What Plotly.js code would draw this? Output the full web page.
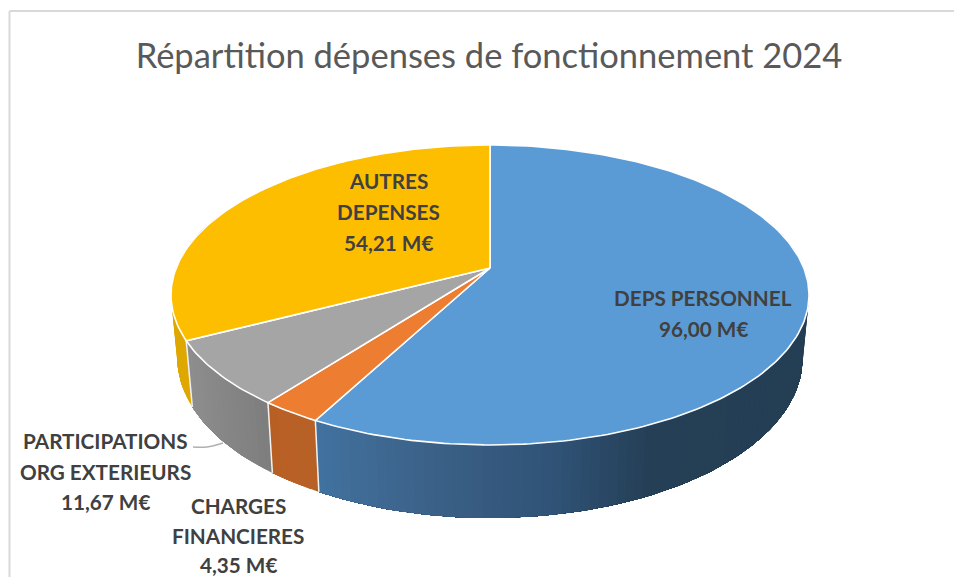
<!DOCTYPE html>
<html><head><meta charset="utf-8">
<script src="https://cdn.plot.ly/plotly-3.0.1.min.js"></script>
<style>html,body{margin:0;padding:0;background:#fff}#c{width:954px;height:577px}</style>
</head><body><div id="c"></div>
<script>
// ---- data ----
const categories = ['DEPS PERSONNEL','CHARGES FINANCIERES','PARTICIPATIONS ORG EXTERIEURS','AUTRES DEPENSES'];
const values = [96.00, 4.35, 11.67, 54.21];
const labelLines = [['DEPS PERSONNEL'],['CHARGES','FINANCIERES'],['PARTICIPATIONS','ORG EXTERIEURS'],['AUTRES','DEPENSES']];
const titleText = 'Répartition dépenses de fonctionnement 2024';
// ---- styles / geometry of the 3D projection ----
const topColors = ['#5B9BD5','#ED7D31','#A5A5A5','#FDBE00'];
const wallStops = [
  [[315,[65,114,159]],[430,[60,97,136]],[560,[47,82,117]],[650,[37,63,86]],[810,[36,62,84]]],
  [[270,[184,95,36]],[320,[184,98,40]]],
  [[185,[142,142,142]],[270,[125,125,125]]],
  [[170,[222,168,0]],[200,[222,168,0]]]
];
const labelPos = [[703,298],[238,506],[105,441],[388,181]];
const lineGap = [31,29.5,30.5,31];
const cx=490, cy=268, K=0.18, A=145.1, B=313.8;
const sxB=0.98, syB=1.065, cyB=329.5;

const total = values.reduce((a,b)=>a+b,0);
function topPt(t){const u=Math.sin(t),v=-Math.cos(t),d=1-K*v;return [B*u/d, A*v/d];}
function px(p){return [cx+p[0], cy+p[1]];}
function botPt(t){const p=topPt(t);return [cx+p[0]*sxB, cyB+p[1]*syB];}
function wallColor(stops,x){
  if(x<=stops[0][0]) return stops[0][1];
  for(let i=1;i<stops.length;i++){ if(x<=stops[i][0]){
    const f=(x-stops[i-1][0])/(stops[i][0]-stops[i-1][0]);
    return stops[i-1][1].map((c,j)=>Math.round(c+(stops[i][1][j]-c)*f)); } }
  return stops[stops.length-1][1];
}
const deg=Math.PI/180, traces=[];
const base={mode:'lines',type:'scatter',hoverinfo:'skip',showlegend:false};
// cumulative slice angles, clockwise from 12 o'clock
let cum=0; const edges=values.map(v=>{const a=cum/total*2*Math.PI;cum+=v;return [a,cum/total*2*Math.PI];});

// side walls (only the part facing the viewer); each strip runs to the end of
// its slice and the next strip paints over it, so no seams appear between strips
const wallRange=[70*deg, 292*deg], step=1.5*deg;
edges.forEach((e,i)=>{
  const a0=Math.max(e[0],wallRange[0]), a1=Math.min(e[1],wallRange[1]);
  if(a1<=a0) return;
  for(let t=a0;t<a1-1e-6;t+=step){
    const xs=[],ys=[],back=[];
    const n=Math.ceil((a1-t)/step);
    for(let k=0;k<=n;k++){
      const tt=Math.min(t+k*step,a1), p=px(topPt(tt)), q=botPt(tt);
      xs.push(p[0]);ys.push(p[1]);back.unshift(q);
    }
    back.forEach(q=>{xs.push(q[0]);ys.push(q[1]);});
    xs.push(xs[0]);ys.push(ys[0]);
    const c=wallColor(wallStops[i],(xs[0]+xs[1])/2), col='rgb('+c.join(',')+')';
    traces.push(Object.assign({},base,{x:xs,y:ys,fill:'toself',fillcolor:col,line:{color:col,width:0}}));
  }
});
// white separators on the wall
edges.slice(1).forEach(e=>{
  const a=px(topPt(e[0])), b=botPt(e[0]);
  traces.push(Object.assign({},base,{x:[a[0],b[0]],y:[a[1],b[1]],line:{color:'#f2f2f2',width:1.5}}));
});
// top faces
edges.forEach((e,i)=>{
  const xs=[cx],ys=[cy];
  const n=Math.max(2,Math.ceil((e[1]-e[0])/(1*deg)));
  for(let k=0;k<=n;k++){const p=px(topPt(e[0]+(e[1]-e[0])*k/n));xs.push(p[0]);ys.push(p[1]);}
  xs.push(cx);ys.push(cy);
  traces.push(Object.assign({},base,{x:xs,y:ys,fill:'toself',fillcolor:topColors[i],line:{color:'#ffffff',width:1.6}}));
});
// leader line of the PARTICIPATIONS label
traces.push(Object.assign({},base,{x:[193,207,223],y:[447,447,443],line:{color:'#b0b0b0',width:1.5,shape:'spline'}}));

const fmt=v=>v.toFixed(2).replace('.',',')+' M€';
const annotations=[];
labelLines.forEach((ls,i)=>{
  ls.concat(fmt(values[i])).forEach((s,j)=>{
    annotations.push({x:labelPos[i][0],y:labelPos[i][1]+j*lineGap[i],xref:'x',yref:'y',text:'<b>'+s+'</b>',showarrow:false,
      xanchor:'center',yanchor:'middle',font:{family:'Lato, sans-serif',size:20.7,color:'#404040'}});
  });
});
const layout={width:954,height:577,margin:{l:0,r:0,t:0,b:0},paper_bgcolor:'#fff',plot_bgcolor:'#fff',showlegend:false,
  title:{text:titleText,x:489/954,xanchor:'center',y:1-56/577,yanchor:'middle',font:{family:'Lato, sans-serif',size:34.5,color:'#595959'}},
  xaxis:{range:[0,954],visible:false,fixedrange:true},
  yaxis:{range:[577,0],visible:false,fixedrange:true},
  annotations,
  shapes:[
    {type:'line',xref:'x',yref:'y',x0:9.5,x1:954,y0:11,y1:11,line:{color:'#d9d9d9',width:2}},
    {type:'line',xref:'x',yref:'y',x0:9.5,x1:9.5,y0:11,y1:577,line:{color:'#d9d9d9',width:2}}
  ]};
Plotly.newPlot('c',traces,layout,{displayModeBar:false,staticPlot:true});
</script></body></html>
